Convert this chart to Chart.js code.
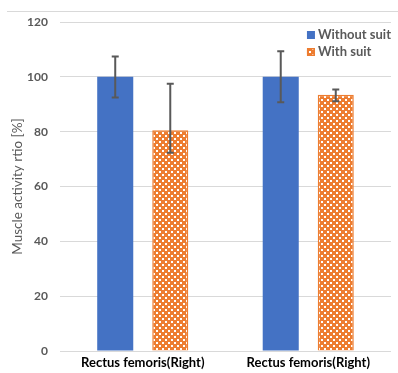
<!DOCTYPE html>
<html>
<head>
<meta charset="utf-8">
<script src="https://cdn.jsdelivr.net/npm/chart.js@4.4.0/dist/chart.umd.min.js"></script>
<style>
html, body { margin: 0; padding: 0; background: #fff; }
#wrap { position: relative; width: 398px; height: 373px; }
#topLine { position: absolute; left: 7px; right: 0; top: 11px; border-top: 1px solid #d9d9d9; }
</style>
</head>
<body>
<div id="wrap">
<div id="topLine"></div>
<canvas id="muscleChart" width="398" height="373"></canvas>
</div>
<script>
// ======================================
// DATA
// ======================================

const categories = ["Rectus femoris(Right)", "Rectus femoris(Right)"];

const withoutSuit = [100, 100];
const withoutSuitHigh = [107.4, 109.3];
const withoutSuitLow = [92.5, 90.7];

const withSuit = [80.5, 93.5];
const withSuitHigh = [97.5, 95.4];
const withSuitLow = [72.3, 91.1];

const yTicks = [0, 20, 40, 60, 80, 100, 120];

// ======================================
// PATTERN
// ======================================

const BLUE = "#4472C4";
const ORANGE = "#ED7D31";

function checker() {
  const c = document.createElement("canvas");
  c.width = 6; c.height = 6;
  const g = c.getContext("2d");
  g.fillStyle = ORANGE;
  g.fillRect(0, 0, 6, 6);
  g.fillStyle = "#ffffff";
  g.fillRect(0, 0, 2, 2);
  g.fillRect(3, 3, 2, 2);
  return g.createPattern(c, "repeat");
}

const checkPattern = checker();

// ======================================
// PLUGINS
// ======================================

const errorBars = {
  id: "errorBars",
  afterDatasetsDraw(chart) {
    const ctx = chart.ctx;
    const y = chart.scales.y;
    const ranges = [[withoutSuitHigh, withoutSuitLow], [withSuitHigh, withSuitLow]];
    ctx.save();
    ctx.strokeStyle = "#595959";
    ctx.lineWidth = 2;
    chart.data.datasets.forEach((ds, i) => {
      const meta = chart.getDatasetMeta(i);
      meta.data.forEach((bar, j) => {
        const top = y.getPixelForValue(ranges[i][0][j]);
        const bot = y.getPixelForValue(ranges[i][1][j]);
        ctx.beginPath();
        ctx.moveTo(bar.x, top);
        ctx.lineTo(bar.x, bot);
        ctx.moveTo(bar.x - 3.5, top);
        ctx.lineTo(bar.x + 3.5, top);
        ctx.moveTo(bar.x - 3.5, bot);
        ctx.lineTo(bar.x + 3.5, bot);
        ctx.stroke();
      });
    });
    ctx.restore();
  }
};

const cornerLegend = {
  id: "cornerLegend",
  afterDraw(chart) {
    const ctx = chart.ctx;
    const area = chart.chartArea;
    ctx.save();
    ctx.font = "bold 13px Lato";
    ctx.textBaseline = "middle";
    const widths = chart.data.datasets.map(ds => ctx.measureText(ds.label).width);
    const maxW = Math.max(...widths);
    const left = area.right - maxW - 11;
    chart.data.datasets.forEach((ds, i) => {
      const cy = 35 + i * 17;
      ctx.fillStyle = ds.backgroundColor;
      ctx.fillRect(left, cy - 4, 8, 8);
      if (ds.borderWidth) {
        ctx.strokeStyle = ds.borderColor;
        ctx.lineWidth = 1.5;
        ctx.strokeRect(left + 0.75, cy - 3.25, 6.5, 6.5);
      }
      ctx.fillStyle = "#595959";
      ctx.fillText(ds.label, left + 11, cy);
    });
    ctx.restore();
  }
};

// ======================================
// CHART
// ======================================

const chart = new Chart(document.getElementById("muscleChart"), {
  type: "bar",
  data: {
    labels: categories,
    datasets: [
      {
        label: "Without suit",
        data: withoutSuit,
        backgroundColor: BLUE,
        borderWidth: 0,
        categoryPercentage: 0.665,
        barPercentage: 0.655
      },
      {
        label: "With suit",
        data: withSuit,
        backgroundColor: checkPattern,
        borderColor: ORANGE,
        borderWidth: 1.5,
        categoryPercentage: 0.665,
        barPercentage: 0.655
      }
    ]
  },
  options: {
    responsive: false,
    animation: false,
    layout: { padding: { left: 0, right: 7, top: 22, bottom: 2 } },
    plugins: {
      legend: { display: false },
      tooltip: { enabled: false }
    },
    scales: {
      x: {
        afterFit(scale) { scale.height = 20; },
        grid: { display: false, drawTicks: false, tickLength: 0 },
        border: { display: false },
        ticks: {
          color: "#000000",
          font: { family: "Lato", size: 13, weight: "bold" },
          padding: 4
        }
      },
      y: {
        min: 0,
        max: 120,
        afterBuildTicks(scale) {
          scale.ticks = yTicks.map(v => ({ value: v }));
        },
        afterFit(scale) { scale.width = 60; },
        grid: { color: "#d9d9d9", lineWidth: 1, drawTicks: false },
        border: { display: false },
        ticks: {
          color: "#595959",
          font: { family: "Lato", size: 12, weight: "bold" },
          padding: 12
        },
        title: {
          display: true,
          text: "Muscle activity rtio [%]",
          color: "#595959",
          font: { family: "Lato", size: 13.5 },
          padding: { top: 10, bottom: 0 }
        }
      }
    }
  },
  plugins: [errorBars, cornerLegend]
});
</script>
</body>
</html>
